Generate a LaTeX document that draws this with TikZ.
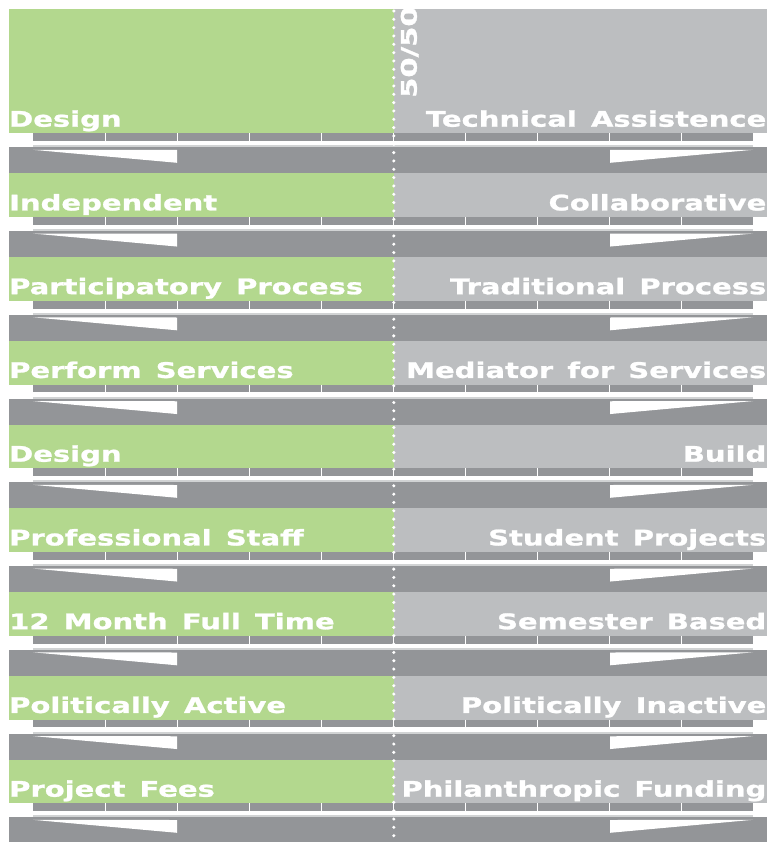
\documentclass[tikz,border=0pt]{standalone}
\usepackage{fontspec}
\setmainfont{DejaVu Sans}[BoldFeatures={FakeStretch=1.35,FakeBold=1.2,WordSpace=1.4}]
\definecolor{leafgreen}{HTML}{B3D88E}
\definecolor{palegray}{HTML}{BCBEC0}
\definecolor{bargray}{HTML}{939598}
\definecolor{edgegray}{HTML}{D1D3D4}
\tikzset{
  pole/.style={inner sep=0pt, text=white, font=\fontsize{21.5}{24}\selectfont\bfseries},
  leftpole/.style={pole, anchor=base west},
  rightpole/.style={pole, anchor=base east}
}
\begin{document}
\begin{tikzpicture}[x=1pt,y=-1pt]
\useasboundingbox (0,0) rectangle (767,842);
% the two halves
\fill[leafgreen] (9,9) rectangle (394,842);
\fill[palegray] (394,9) rectangle (767,842);
% scale and slider under every row
\foreach \k in {0,...,8}{
  \pgfmathsetmacro{\y}{133.3+83.75*\k}
  \fill[white] (9,\y) rectangle (767,\y+14);
  \fill[bargray] (33,\y) rectangle (753,\y+7.7);
  \foreach \t in {1,...,9}
    \draw[white, line width=1pt] (33+72*\t,\y) -- (33+72*\t,\y+7.7);
  \fill[edgegray] (33,\y+12) rectangle (753,\y+14);
  \fill[bargray] (9,\y+14) rectangle (767,\y+40);
  \fill[white] (33,\y+16.5) -- (177,\y+16.7) -- (177,\y+29.5) -- cycle;
  \fill[white] (753,\y+16.5) -- (610,\y+16.7) -- (610,\y+29.5) -- cycle;
}
% middle line
\draw[white, line width=3.4pt, line cap=round, dash pattern=on 0pt off 8.33pt] (393.8,11) -- (393.8,842);
\node[pole, anchor=base west, rotate=90] (half) at (416.7,98) {50/50};
% labels
\node[leftpole] (l0) at (9,126.7) {Design};
\node[rightpole] (r0) at (766.5,126.7) {Technical Assistence};
\node[leftpole] (l1) at (9,210.45) {Independent};
\node[rightpole] (r1) at (766.5,210.45) {Collaborative};
\node[leftpole] (l2) at (9,294.2) {Participatory Process};
\node[rightpole] (r2) at (766.5,294.2) {Traditional Process};
\node[leftpole] (l3) at (9,377.95) {Perform Services};
\node[rightpole] (r3) at (766.5,377.95) {Mediator for Services};
\node[leftpole] (l4) at (9,461.7) {Design};
\node[rightpole] (r4) at (766.5,461.7) {Build};
\node[leftpole] (l5) at (9,545.45) {Professional Staff};
\node[rightpole] (r5) at (766.5,545.45) {Student Projects};
\node[leftpole] (l6) at (9,629.2) {12 Month Full Time};
\node[rightpole] (r6) at (766.5,629.2) {Semester Based};
\node[leftpole] (l7) at (9,712.95) {Politically Active};
\node[rightpole] (r7) at (766.5,712.95) {Politically Inactive};
\node[leftpole] (l8) at (9,796.7) {Project Fees};
\node[rightpole] (r8) at (766.5,796.7) {Philanthropic Funding};
\end{tikzpicture}
\end{document}
